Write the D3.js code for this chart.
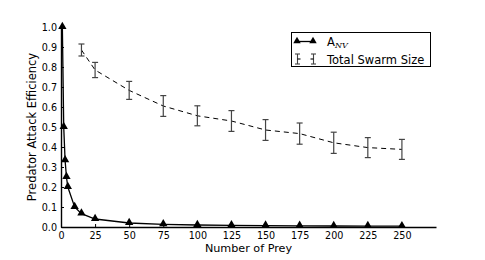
<!DOCTYPE html>
<html><head><meta charset="utf-8">
<script src="https://cdn.jsdelivr.net/npm/d3@7"></script>
<style>body{margin:0;background:#fff}svg{font-family:"DejaVu Sans",sans-serif}</style>
</head><body>
<svg id="c" width="485" height="260"></svg>
<script>
const anvX = [1, 2, 3, 4, 5, 10, 15, 25, 50, 75, 100, 125, 150, 175, 200, 225, 250];
const anvY = [1.0, 0.5, 0.333, 0.25, 0.2, 0.1, 0.0667, 0.04, 0.02, 0.0133, 0.01, 0.008, 0.0067, 0.0057, 0.005, 0.0044, 0.004];
const swarmX = [15, 25, 50, 75, 100, 125, 150, 175, 200, 225, 250];
const swarmY = [0.885, 0.785, 0.683, 0.605, 0.556, 0.53, 0.485, 0.467, 0.421, 0.397, 0.388];
const swarmErr = [0.03, 0.038, 0.045, 0.052, 0.05, 0.052, 0.052, 0.053, 0.053, 0.05, 0.05];
const xTicks = [0, 25, 50, 75, 100, 125, 150, 175, 200, 225, 250];
const yTicks = [0.0, 0.1, 0.2, 0.3, 0.4, 0.5, 0.6, 0.7, 0.8, 0.9, 1.0];
const legendLabels = ["A", "Total Swarm Size"];

const svg = d3.select("#c");
const x = d3.scaleLinear().domain([0, 275]).range([61, 436]);
const y = d3.scaleLinear().domain([0, 1]).range([227, 27]);

// axes
const xa = svg.append("g").attr("transform", `translate(0,${y(0)})`)
  .call(d3.axisBottom(x).tickValues(xTicks).tickSizeInner(-3).tickSizeOuter(0).tickPadding(5));
const ya = svg.append("g").attr("transform", `translate(${x(0)},0)`)
  .call(d3.axisLeft(y).tickValues(yTicks).tickFormat(d3.format(".1f")).tickSizeInner(-3).tickSizeOuter(0).tickPadding(4));
[xa, ya].forEach(g => {
  g.select(".domain").attr("stroke", "#000").attr("stroke-width", 1.4);
  g.selectAll(".tick line").attr("stroke", "#000").attr("stroke-width", 1);
  g.selectAll("text").attr("font-size", 9.6).attr("fill", "#000").attr("font-family", "DejaVu Sans");
});
xa.selectAll(".tick text").attr("dy", "0.7em");

svg.append("text").attr("x", x(137.5)).attr("y", 252).attr("text-anchor", "middle")
  .attr("font-size", 11.2).text("Number of Prey");
svg.append("text").attr("transform", `translate(36,${y(0.5)}) rotate(-90)`).attr("text-anchor", "middle")
  .attr("font-size", 11.5).text("Predator Attack Efficiency");

// swarm dashed line
const line = d3.line().x(d => x(d[0])).y(d => y(d[1]));
svg.append("path").datum(swarmX.map((v, i) => [v, swarmY[i]]))
  .attr("d", line).attr("fill", "none").attr("stroke", "#000").attr("stroke-width", 1).attr("stroke-dasharray", "5,4");
const eb = svg.append("g").attr("stroke", "#444").attr("stroke-width", 1.2);
swarmX.forEach((v, i) => {
  const cx = x(v), t = y(swarmY[i] + swarmErr[i]), b = y(swarmY[i] - swarmErr[i]);
  eb.append("line").attr("x1", cx).attr("x2", cx).attr("y1", t).attr("y2", b);
  eb.append("line").attr("x1", cx - 3).attr("x2", cx + 3).attr("y1", t).attr("y2", t);
  eb.append("line").attr("x1", cx - 3).attr("x2", cx + 3).attr("y1", b).attr("y2", b);
});

// A_NV line
svg.append("path").datum(anvX.map((v, i) => [v, anvY[i]]))
  .attr("d", line).attr("fill", "none").attr("stroke", "#000").attr("stroke-width", 1.3);
const tri = d3.symbol().type(d3.symbolTriangle).size(30);
svg.append("g").selectAll("path").data(anvX.map((v, i) => [v, anvY[i]])).join("path")
  .attr("transform", d => `translate(${x(d[0])},${y(d[1]) - 0.5})`).attr("d", tri).attr("fill", "#000");

// legend
const lg = svg.append("g");
lg.append("rect").attr("x", 291.5).attr("y", 32.5).attr("width", 139).attr("height", 34)
  .attr("fill", "#fff").attr("stroke", "#000").attr("stroke-width", 1);
lg.append("line").attr("x1", 297).attr("x2", 313).attr("y1", 41.5).attr("y2", 41.5).attr("stroke", "#000").attr("stroke-width", 1.3);
[297, 313].forEach(px => lg.append("path").attr("d", d3.symbol().type(d3.symbolTriangle).size(24)())
  .attr("transform", `translate(${px},41)`).attr("fill", "#000"));
const t1 = lg.append("text").attr("x", 327).attr("y", 45.5).attr("font-size", 11.5);
t1.append("tspan").text(legendLabels[0]);
t1.append("tspan").attr("font-size", 8).attr("font-style", "italic").attr("font-family", "DejaVu Serif").attr("dy", 2).text("NV");
// errorbar handle
const lgE = lg.append("g").attr("stroke", "#444").attr("stroke-width", 1.1);
[[297.5, 1], [313.5, -1]].forEach(([px, dir]) => {
  lgE.append("line").attr("x1", px).attr("x2", px).attr("y1", 54).attr("y2", 64);
  lgE.append("line").attr("x1", px - 2.5).attr("x2", px + 2.5).attr("y1", 54).attr("y2", 54);
  lgE.append("line").attr("x1", px - 2.5).attr("x2", px + 2.5).attr("y1", 64).attr("y2", 64);
  lgE.append("line").attr("x1", px).attr("x2", px + 3 * dir).attr("y1", 59).attr("y2", 59).attr("stroke", "#000");
});
lg.append("text").attr("x", 327).attr("y", 63.5).attr("font-size", 11.5).text(legendLabels[1]);
</script>
</body></html>
